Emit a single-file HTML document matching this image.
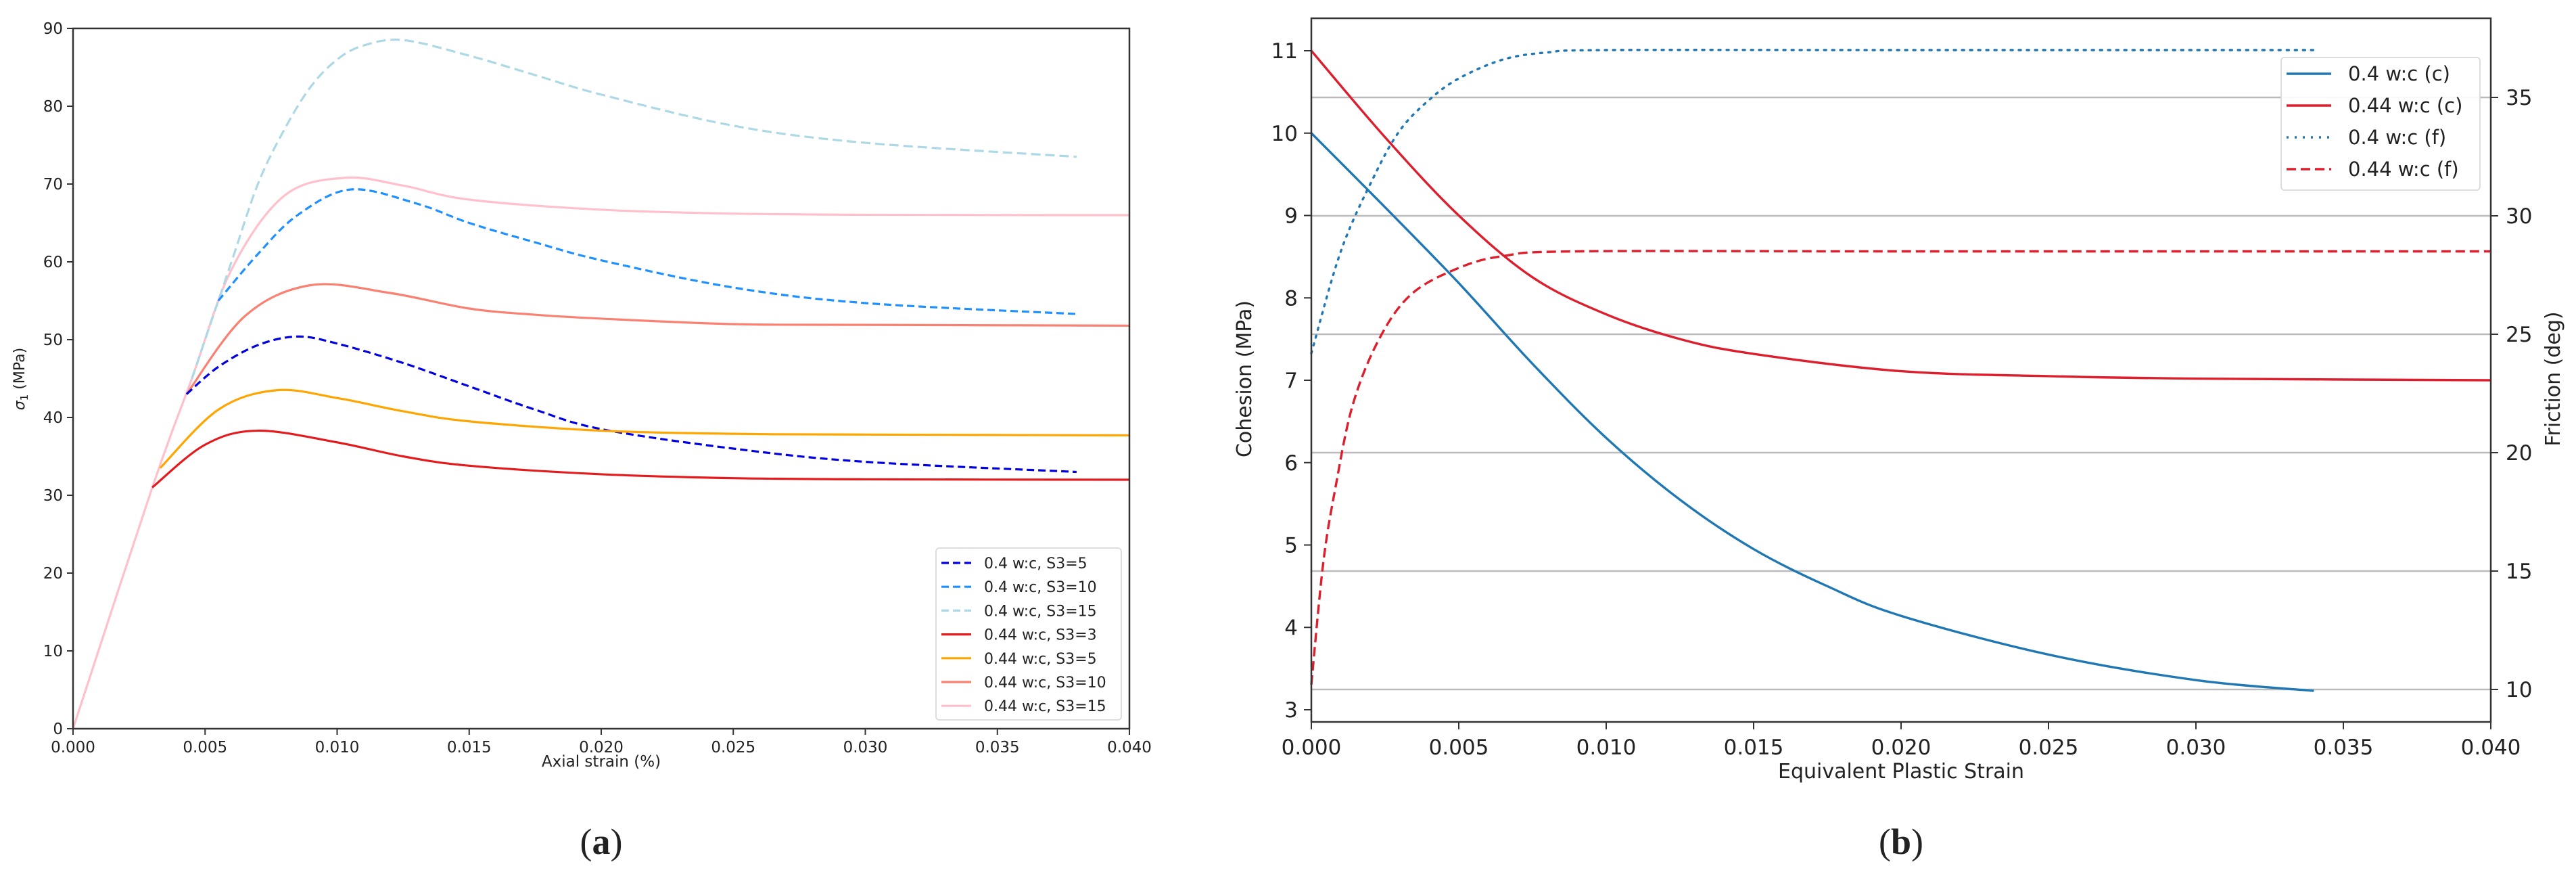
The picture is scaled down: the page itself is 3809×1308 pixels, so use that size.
<!DOCTYPE html>
<html><head><meta charset="utf-8"><style>
html,body{margin:0;padding:0;background:#fff;width:3809px;height:1308px;overflow:hidden}
svg{display:block}
text{font-family:"DejaVu Sans","Liberation Sans",sans-serif;fill:#222}
</style></head><body>
<svg id="fig" width="3809" height="1308" viewBox="0 0 3809 1308" xmlns="http://www.w3.org/2000/svg"></svg>
<script>
// ---- Chart (a) data ----
const aXTicks = [0,0.005,0.010,0.015,0.020,0.025,0.030,0.035,0.040];
const aYTicks = [0,10,20,30,40,50,60,70,80,90];
const aNames = ["0.4 w:c, S3=5","0.4 w:c, S3=10","0.4 w:c, S3=15","0.44 w:c, S3=3","0.44 w:c, S3=5","0.44 w:c, S3=10","0.44 w:c, S3=15"];
const a_s5_x  = [0.0043,0.0055,0.007,0.0085,0.010,0.0125,0.015,0.0175,0.020,0.025,0.030,0.038];
const a_s5_y  = [43,46.5,49.3,50.4,49.5,47,44,41,38.5,36,34.3,33];
const a_s10_x = [0.0055,0.007,0.0085,0.0105,0.013,0.015,0.0175,0.020,0.025,0.030,0.038];
const a_s10_y = [55,61,66,69.3,67.5,65,62.5,60.2,56.7,54.7,53.3];
const a_s15_x = [0.0045,0.006,0.007,0.008,0.009,0.010,0.011,0.0125,0.015,0.0175,0.020,0.025,0.030,0.038];
const a_s15_y = [45,60,70,77,82.5,86,87.8,88.5,86.5,84,81.5,77.5,75.3,73.5];
const b_s3_x  = [0.003,0.005,0.007,0.010,0.0125,0.015,0.020,0.025,0.030,0.040];
const b_s3_y  = [31,36.5,38.3,36.8,35,33.8,32.7,32.2,32.05,32.0];
const b_s5_x  = [0.0033,0.0055,0.0077,0.010,0.0125,0.015,0.020,0.025,0.030,0.040];
const b_s5_y  = [33.5,41,43.5,42.5,40.8,39.5,38.3,37.9,37.8,37.7];
const b_s10_x = [0.0043,0.0065,0.009,0.012,0.015,0.0175,0.020,0.025,0.030,0.040];
const b_s10_y = [43,53,57,56,54,53.2,52.7,52,51.9,51.8];
const b_s15_x = [0,0.003,0.0045,0.006,0.008,0.0103,0.0125,0.015,0.020,0.025,0.030,0.040];
const b_s15_y = [0,31,45,59,68.5,70.8,69.8,68,66.7,66.2,66.05,66];
// ---- Chart (b) data ----
const bXTicks = [0,0.005,0.010,0.015,0.020,0.025,0.030,0.035,0.040];
const bCTicks = [3,4,5,6,7,8,9,10,11];
const bFTicks = [10,15,20,25,30,35];
const c04_x = [0,0.0025,0.005,0.0075,0.010,0.0125,0.015,0.0175,0.020,0.025,0.030,0.034];
const c04_y = [10,9.1,8.18,7.2,6.3,5.55,4.95,4.5,4.14,3.67,3.36,3.23];
const c044_x = [0,0.0025,0.005,0.0075,0.010,0.0125,0.015,0.020,0.025,0.030,0.040];
const c044_y = [11,9.95,9.0,8.25,7.8,7.5,7.32,7.11,7.05,7.02,7.0];
const f04_x = [0,0.001,0.0021,0.003,0.004,0.005,0.0065,0.008,0.010,0.020,0.034];
const f04_y = [24.2,28.5,31.6,33.6,34.9,35.8,36.6,36.9,37.0,37.0,37.0];
const f044_x = [0,0.0004,0.0008,0.0014,0.0023,0.0034,0.005,0.0065,0.009,0.020,0.040];
const f044_y = [10.2,15.3,18.4,22.0,24.8,26.7,27.8,28.3,28.5,28.5,28.5];

const NS="http://www.w3.org/2000/svg";
const svg=document.getElementById('fig');
function el(tag,attrs,parent,txt){const e=document.createElementNS(NS,tag);for(const k in attrs)e.setAttribute(k,attrs[k]);if(txt!==undefined)e.textContent=txt;(parent||svg).appendChild(e);return e;}
function path(xs,ys,sx,sy){const p=xs.map((x,i)=>[sx(x),sy(ys[i])]);let d="M"+p[0][0]+","+p[0][1];
 for(let i=0;i<p.length-1;i++){const p0=p[i-1]||p[i],p1=p[i],p2=p[i+1],p3=p[i+2]||p2;
  const c1=[p1[0]+(p2[0]-p0[0])/6,p1[1]+(p2[1]-p0[1])/6],c2=[p2[0]-(p3[0]-p1[0])/6,p2[1]-(p3[1]-p1[1])/6];
  d+=" C"+c1[0]+","+c1[1]+" "+c2[0]+","+c2[1]+" "+p2[0]+","+p2[1];}return d;}

// ===== Chart A =====
const A={l:108,r:1670,t:42,b:1077};
const ax=v=>A.l+v/0.04*(A.r-A.l), ay=v=>A.b-v/90*(A.b-A.t);
const gA=el('g',{});


aXTicks.forEach(t=>{el('line',{x1:ax(t),x2:ax(t),y1:A.b,y2:A.b+9,stroke:'#333','stroke-width':2},gA);
 const tx=el('text',{x:ax(t),y:A.b+35,'font-size':23,'text-anchor':'middle'},gA,t.toFixed(3));
 });
aYTicks.forEach(t=>{el('line',{x1:A.l-9,x2:A.l,y1:ay(t),y2:ay(t),stroke:'#333','stroke-width':2},gA);
 const tx=el('text',{x:A.l-15,y:ay(t)+8,'font-size':23,'text-anchor':'end'},gA,String(t));
 });
const aSeries=[
 [b_s15_x,b_s15_y,'#ffc0cb',null],
 [a_s15_x,a_s15_y,'#add8e6','14,7'],
 [b_s10_x,b_s10_y,'#fa8072',null],
 [a_s10_x,a_s10_y,'#1e90ff','11,6'],
 [a_s5_x,a_s5_y,'#0000e0','11,6'],
 [b_s5_x,b_s5_y,'#ffa500',null],
 [b_s3_x,b_s3_y,'#e41a1c',null]];
aSeries.forEach(s=>{const p=el('path',{d:path(s[0],s[1],ax,ay),fill:'none',stroke:s[2],'stroke-width':3.2},gA);
 if(s[3])p.setAttribute('stroke-dasharray',s[3]);
 });
el('rect',{x:A.l,y:A.t,width:A.r-A.l,height:A.b-A.t,fill:'none',stroke:'#333','stroke-width':2.5},gA);
let t1=el('text',{x:A.l+(A.r-A.l)/2,y:1133,'font-size':23,'text-anchor':'middle'},gA,'Axial strain (%)');

let t2=el('text',{x:0,y:0,'font-size':22,'text-anchor':'middle',transform:'translate(36,560) rotate(-90)'},gA);
t2.innerHTML='<tspan font-style="italic">σ</tspan><tspan font-size="15" dy="5">1</tspan><tspan dy="-5"> (MPa)</tspan>';

// legend A
const lgA=el('g',{},gA);

el('rect',{x:1384,y:810,width:274,height:254,rx:5,fill:'#fff',stroke:'#ddd','stroke-width':2},lgA);
const legA=[['#0000e0','11,6'],['#1e90ff','11,6'],['#add8e6','11,6'],['#e41a1c',null],['#ffa500',null],['#fa8072',null],['#ffc0cb',null]];
aNames.forEach((n,i)=>{const y=832+i*35.2;const ln=el('line',{x1:1392,x2:1436,y1:y,y2:y,stroke:legA[i][0],'stroke-width':3.2},lgA);
 if(legA[i][1])ln.setAttribute('stroke-dasharray',legA[i][1]);
 const tx=el('text',{x:1455,y:y+8,'font-size':22},lgA,n);
 });
let la=el('text',{x:ax(0.02),y:1262,'font-size':54,'text-anchor':'middle',style:'font-family:"Liberation Serif",serif'},svg);
la.innerHTML='(<tspan font-weight="bold">a</tspan>)';


// ===== Chart B =====
const B={l:1939,r:3683,t:27,b:1067};
const bx=v=>B.l+v/0.04*(B.r-B.l), by=v=>75+(11-v)*121.75, bf=v=>144+(35-v)*35;
const gB=el('g',{});


bFTicks.forEach(t=>{const g=el('line',{x1:B.l,x2:B.r,y1:bf(t),y2:bf(t),stroke:'#bbb','stroke-width':2.5},gB);
 
 el('line',{x1:B.r,x2:B.r+11,y1:bf(t),y2:bf(t),stroke:'#333','stroke-width':2},gB);
 const tx=el('text',{x:B.r+22,y:bf(t)+11,'font-size':31},gB,String(t));
 });
bXTicks.forEach(t=>{el('line',{x1:bx(t),x2:bx(t),y1:B.b,y2:B.b+11,stroke:'#333','stroke-width':2},gB);
 const tx=el('text',{x:bx(t),y:B.b+48,'font-size':31,'text-anchor':'middle'},gB,t.toFixed(3));
 });
bCTicks.forEach(t=>{el('line',{x1:B.l-11,x2:B.l,y1:by(t),y2:by(t),stroke:'#333','stroke-width':2},gB);
 const tx=el('text',{x:B.l-20,y:by(t)+11,'font-size':31,'text-anchor':'end'},gB,String(t));
 });
const bSeries=[
 [c04_x,c04_y,by,'#1f77b4',null],
 [c044_x,c044_y,by,'#dc1e2d',null],
 [f04_x,f04_y,bf,'#1f77b4','3,9'],
 [f044_x,f044_y,bf,'#dc1e2d','14,7']];
bSeries.forEach(s=>{const p=el('path',{d:path(s[0],s[1],bx,s[2]),fill:'none',stroke:s[3],'stroke-width':3.4,'stroke-linecap':s[4]==='3,9'?'round':'butt'},gB);
 if(s[4])p.setAttribute('stroke-dasharray',s[4]);
 });
el('rect',{x:B.l,y:B.t,width:B.r-B.l,height:B.b-B.t,fill:'none',stroke:'#333','stroke-width':2.5},gB);
let t3=el('text',{x:bx(0.02),y:1150,'font-size':30,'text-anchor':'middle'},gB,'Equivalent Plastic Strain');

let t4=el('text',{x:0,y:0,'font-size':30,'text-anchor':'middle',transform:'translate(1850,560) rotate(-90)'},gB,'Cohesion (MPa)');

let t5=el('text',{x:0,y:0,'font-size':30,'text-anchor':'middle',transform:'translate(3785,560) rotate(-90)'},gB,'Friction (deg)');

const lgB=el('g',{},gB);

el('rect',{x:3373,y:85,width:294,height:196,rx:5,fill:'#fff','fill-opacity':0.9,stroke:'#ddd','stroke-width':2},lgB);
const bNames=["0.4 w:c (c)","0.44 w:c (c)","0.4 w:c (f)","0.44 w:c (f)"];
const legB=[['#1f77b4',null],['#dc1e2d',null],['#1f77b4','3,9'],['#dc1e2d','14,7']];
bNames.forEach((n,i)=>{const y=109+i*47;const ln=el('line',{x1:3381,x2:3447,y1:y,y2:y,stroke:legB[i][0],'stroke-width':3.4},lgB);
 if(legB[i][1])ln.setAttribute('stroke-dasharray',legB[i][1]);
 const tx=el('text',{x:3472,y:y+10,'font-size':29},lgB,n);
 });
let lb=el('text',{x:bx(0.02),y:1262,'font-size':54,'text-anchor':'middle',style:'font-family:"Liberation Serif",serif'},svg);
lb.innerHTML='(<tspan font-weight="bold">b</tspan>)';

</script>
</body></html>
